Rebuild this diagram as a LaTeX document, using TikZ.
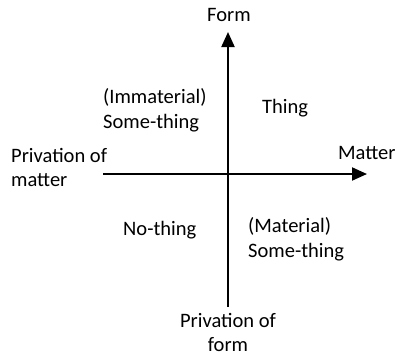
\documentclass[tikz,border=0pt]{standalone}
\usepackage{fontspec}
\setmainfont{Carlito}
\usetikzlibrary{positioning,arrows.meta}

\begin{document}
\begin{tikzpicture}[x=1bp, y=-1bp, every node/.style={inner sep=0pt, align=left, font=\fontsize{20.6}{25}\selectfont}]
	\useasboundingbox (0,0) rectangle (397,357);
	\begin{scope}
	\coordinate (l) at (103,174);
	\coordinate (r) at (367,174);
	\coordinate (b) at (228,307);
	\coordinate (t) at (228,32);
	\node (form) at (229,15) {Form};
	\node (matter) [anchor=west] at (338,153) {Matter};
	\node (pm) [anchor=west] at (11,167.5) {Privation of\\matter};
	\node (pf) [align=center] at (228,332.5) {Privation of\\form};
	\node (imm) [anchor=west] at (103,110.5) {(Immaterial)\\Some-thing};
	\node (thing) [anchor=west] at (262,108) {Thing};
	\node (no) [anchor=west] at (123,230) {No-thing};
	\node (mat) [anchor=west] at (248,239.5) {(Material)\\Some-thing};
	
	\draw [line width=2bp, -{Triangle[length=15bp,width=13bp]}] (l) -- (r);
	\draw [line width=2bp, -{Triangle[length=15bp,width=13bp]}] (b) -- (t);
	\end{scope}
\end{tikzpicture}
\end{document}
